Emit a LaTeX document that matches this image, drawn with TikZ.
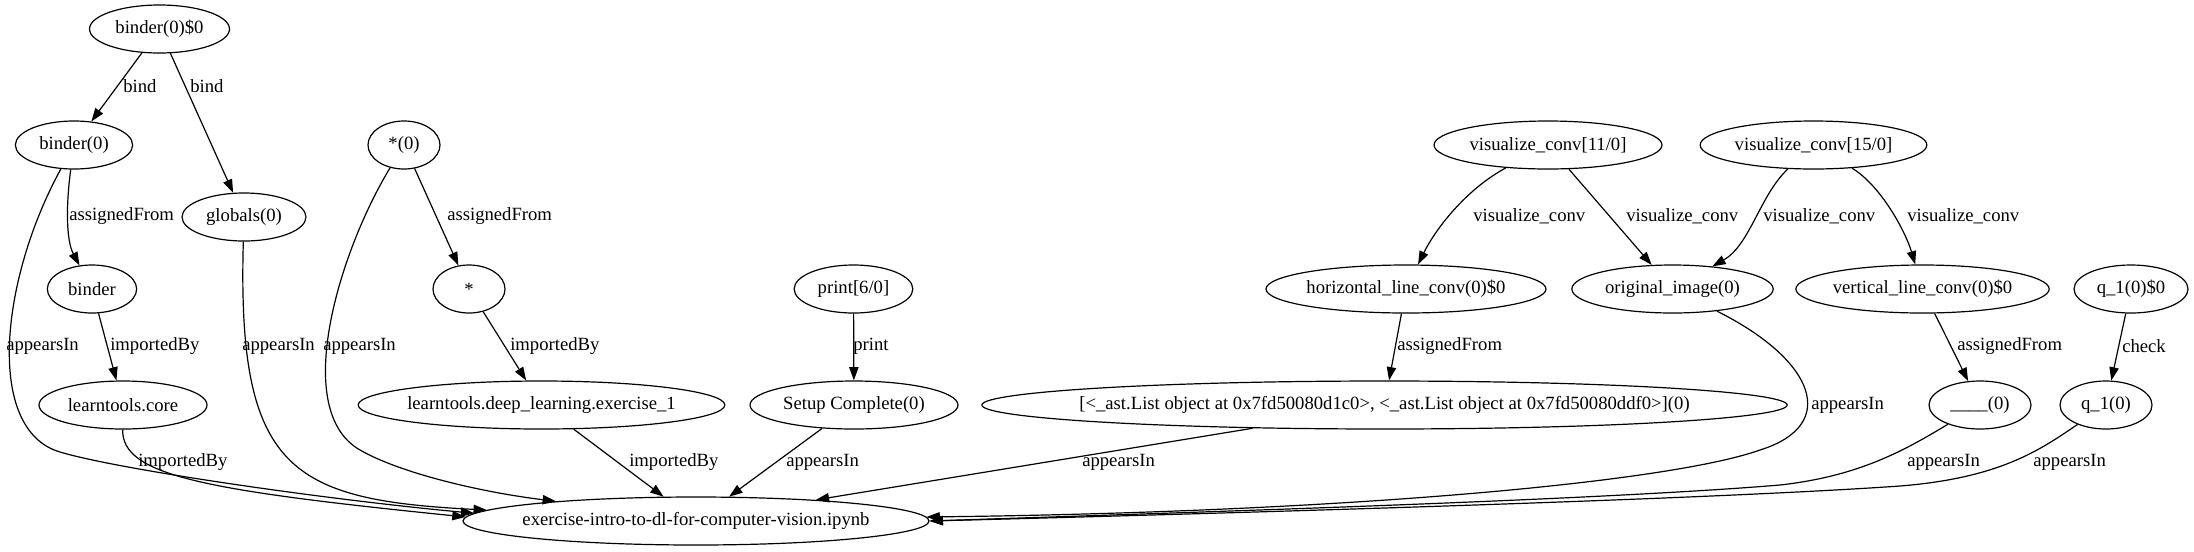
\documentclass[tikz,border=0pt]{standalone}
\usepackage{fontspec}
\setmainfont{Liberation Serif}
\usetikzlibrary{shapes.geometric,arrows.meta}
\tikzset{
  gnode/.style={ellipse, draw, line width=0.9pt, minimum height=36pt, inner xsep=-20pt,
    font=\fontsize{14pt}{16.8pt}\selectfont},
  conn/.style={draw, line width=0.9pt, -{Triangle[length=10pt,width=7pt]}},
  lbl/.style={anchor=west, inner sep=0pt, font=\fontsize{14pt}{16.8pt}\selectfont},
}
\begin{document}
\begin{tikzpicture}[x=0.75pt,y=-0.75pt]
\useasboundingbox (0,0) rectangle (2194,551);
% nodes
\node[gnode, minimum width=105pt] (b0s) at (159.5,29) {binder(0)\$0};
\node[gnode, minimum width=88pt] (b0) at (74,145) {binder(0)};
\node[gnode, minimum width=93pt] (glob) at (244,217) {globals(0)};
\node[gnode, minimum width=54pt] (star0) at (404,145) {*(0)};
\node[gnode, minimum width=67pt] (binder) at (92,289) {binder};
\node[gnode, minimum width=54pt] (star) at (469,289) {*};
\node[gnode, minimum width=126pt] (ltc) at (123,405) {learntools.core};
\node[gnode, minimum width=275pt] (ldl) at (541.5,405) {learntools.deep\_learning.exercise\_1};
\node[gnode, minimum width=89pt] (print) at (853.5,289) {print[6/0]};
\node[gnode, minimum width=156pt] (setup) at (854,405) {Setup Complete(0)};
\node[gnode, minimum width=604pt] (list) at (1384.5,405) {[<\_ast.List object at 0x7fd50080d1c0>, <\_ast.List object at 0x7fd50080ddf0>](0)};
\node[gnode, minimum width=171pt] (vc11) at (1548,145) {visualize\_conv[11/0]};
\node[gnode, minimum width=170pt] (vc15) at (1813.5,145) {visualize\_conv[15/0]};
\node[gnode, minimum width=210pt] (hlc) at (1406,289) {horizontal\_line\_conv(0)\$0};
\node[gnode, minimum width=151pt] (orig) at (1672.5,289) {original\_image(0)};
\node[gnode, minimum width=190pt] (vlc) at (1922.5,289) {vertical\_line\_conv(0)\$0};
\node[gnode, minimum width=85.5pt] (q1s) at (2131,289) {q\_1(0)\$0};
\node[gnode, minimum width=76.5pt] (blank) at (1980,405) {\_\_\_\_(0)};
\node[gnode, minimum width=69pt] (q1) at (2106,405) {q\_1(0)};
\node[gnode, minimum width=349.5pt] (ex) at (696,521) {exercise-intro-to-dl-for-computer-vision.ipynb};
% connectors
\draw[conn] (b0s) -- (b0);
\draw[conn] (b0s) -- (glob);
\draw[conn] (b0) .. controls (66,205) and (66,240) .. (binder);
\draw[conn] (b0) .. controls (0,280) and (-15,430) .. (60,452) .. controls (120,470) and (330,500) .. (ex.178.8);
\draw[conn] (binder) -- (ltc);
\draw[conn] (ltc) .. controls (122,475) and (200,490) .. (ex.179.5);
\draw[conn] (glob) .. controls (237,470) and (290,500) .. (ex.177.5);
\draw[conn] (star0) -- (star);
\draw[conn] (star0) .. controls (340,250) and (290,410) .. (360,450) .. controls (400,473) and (480,492) .. (ex.172);
\draw[conn] (star) -- (ldl);
\draw[conn] (ldl) -- (ex);
\draw[conn] (print) -- (setup);
\draw[conn] (setup) -- (ex);
\draw[conn] (list.190) -- (ex.10);
\draw[conn] (vc11) .. controls (1465,190) and (1435,230) .. (hlc);
\draw[conn] (vc11) -- (orig);
\draw[conn] (vc15) .. controls (1760,195) and (1750,245) .. (orig);
\draw[conn] (vc15) .. controls (1880,185) and (1905,230) .. (vlc);
\draw[conn] (hlc) -- (list);
\draw[conn] (orig) .. controls (1815,360) and (1840,425) .. (1760,450) .. controls (1670,482) and (1350,512) .. (ex.1);
\draw[conn] (vlc) -- (blank);
\draw[conn] (q1s) -- (q1);
\draw[conn] (blank) .. controls (1905,450) and (1860,476) .. (1780,485) .. controls (1600,500) and (1200,512) .. (ex.0.6);
\draw[conn] (q1) .. controls (2040,450) and (2000,478) .. (1900,486) .. controls (1700,500) and (1200,514) .. (ex.0.3);
% edge labels
\node[lbl] (lb1) at (123,86) {bind};
\node[lbl] (lb2) at (190,86) {bind};
\node[lbl] (lb3) at (69,216) {assignedFrom};
\node[lbl] (lb4) at (6,346) {appearsIn};
\node[lbl] (lb5) at (110,346) {importedBy};
\node[lbl] (lb6) at (242,346) {appearsIn};
\node[lbl] (lb7) at (323,346) {appearsIn};
\node[lbl] (lb8) at (138,462) {importedBy};
\node[lbl] (lb9) at (447,216) {assignedFrom};
\node[lbl] (lb10) at (510,346) {importedBy};
\node[lbl] (lb11) at (629,462) {importedBy};
\node[lbl] (lb12) at (853,346) {print};
\node[lbl] (lb13) at (786,462) {appearsIn};
\node[lbl] (lb14) at (1082,462) {appearsIn};
\node[lbl] (lb15) at (1473,216) {visualize\_conv};
\node[lbl] (lb16) at (1626,216) {visualize\_conv};
\node[lbl] (lb17) at (1763,216) {visualize\_conv};
\node[lbl] (lb18) at (1907,216) {visualize\_conv};
\node[lbl] (lb19) at (1397,346) {assignedFrom};
\node[lbl] (lb20) at (1811,405) {appearsIn};
\node[lbl] (lb21) at (1957,346) {assignedFrom};
\node[lbl] (lb22) at (2122,346) {check};
\node[lbl] (lb23) at (1907,462) {appearsIn};
\node[lbl] (lb24) at (2033,462) {appearsIn};
\end{tikzpicture}
\end{document}
